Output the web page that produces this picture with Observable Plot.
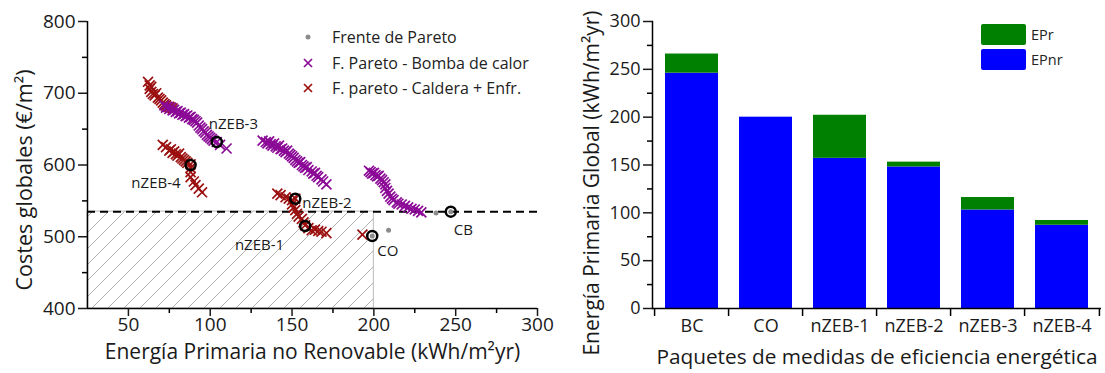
<!DOCTYPE html>
<html><head><meta charset="utf-8">
<script src="https://cdn.jsdelivr.net/npm/d3@7"></script>
<script src="https://cdn.jsdelivr.net/npm/@observablehq/plot@0.6"></script>
<style>
body{margin:0;background:#fff;font-family:"Open Sans",sans-serif;}
#wrap{position:relative;width:1105px;height:373px;overflow:hidden;background:#fff;}
#left{position:absolute;left:0;top:0;}
#right{position:absolute;left:560px;top:0;}
.leg{position:absolute;color:#222;white-space:nowrap;}
.leg .row{position:absolute;left:0;display:flex;align-items:center;}
</style></head><body>
<div id="wrap"><div id="left"></div><div id="right"></div><div id="legL" class="leg"></div><div id="legR" class="leg"></div></div>
<script>
// ---------- Data: left panel (Pareto fronts) ----------
const seriesNames = ["Frente de Pareto", "F. Pareto - Bomba de calor", "F. pareto - Caldera + Enfr."];
const seriesColors = ["#8c8c8c", "#8b0a96", "#9b1010"];

const paretoEP   = [199, 209, 238, 247];
const paretoCost = [501, 509, 533, 535];

const heatPumpEP = [72,73,74,75,76,77,78,79,80,81,82,83,84,85,86,87,88,89,90,91,92,93,94,95,96,97,98,99,100,101,102,104,106,110,
  132,134,135,136,137,138,139,140,141,142,143,144,145,146,147,148,149,150,151,152,153,154,155,156,157,158,159,160,162,163,164,165,166,168,169,171,
  197,198,199,200,201,202,203,204,205,206,207,207,208,209,210,211,212,214,215,217,219,221,223,225,227,229];
const heatPumpCost = [683,680,681,678,680,676,677,674,675,672,673,670,671,668,669,666,667,664,663,661,659,655,652,650,647,645,642,640,638,636,634,632,628,623,
  634,632,630,633,629,627,630,626,624,627,622,623,620,618,620,616,614,612,610,607,605,603,604,600,598,596,597,593,591,588,589,585,583,580,577,573,
  592,590,588,589,586,584,585,581,579,576,573,568,564,560,556,553,551,548,546,545,543,541,539,538,536,534];

const boilerEP = [62,63,63,64,64,65,66,67,68,69,70,71,72,73,75,77,
  71,73,75,76,77,78,79,80,81,82,83,84,85,86,88,88,88,88,90,91,93,95,
  141,143,146,148,150,152,150,151,152,153,154,156,157,158,160,162,164,166,168,171,
  193];
const boilerCost = [716,711,706,702,709,699,697,700,694,692,690,687,685,683,681,679,
  628,625,620,622,617,619,615,613,616,611,609,607,605,603,601,596,590,583,577,572,567,562,
  560,558,555,553,551,553,545,541,537,532,528,525,520,516,512,509,510,508,507,505,
  503];

const packageNames = ["CB", "CO", "nZEB-1", "nZEB-2", "nZEB-3", "nZEB-4"];
const packageEP    = [247, 199, 158, 152, 104, 88];
const packageCost  = [535, 501, 515, 553, 632, 600];

const limitEP = 200;     // EPnr limit
const limitCost = 535;   // cost of reference (CB)

const xTicksL = [50, 100, 150, 200, 250, 300];
const xMinorL = [75, 125, 175, 225, 275];
const yTicksL = [400, 500, 600, 700, 800];
const yMinorL = [450, 550, 650, 750];

// ---------- Data: right panel (stacked bars) ----------
const categories = ["BC", "CO", "nZEB-1", "nZEB-2", "nZEB-3", "nZEB-4"];
const EPnr = [246, 200, 157, 148, 103, 87];
const EPr  = [20, 0, 45, 5, 13, 5];
const barSeries = ["EPr", "EPnr"];
const barColors = ["#008000", "#0000ff"];
const yTicksR = [0, 50, 100, 150, 200, 250, 300];
const yMinorR = [25, 75, 125, 175, 225, 275];

// ---------- Build tables ----------
const pareto = paretoEP.map((x, i) => ({x, y: paretoCost[i]}));
const heat = heatPumpEP.map((x, i) => ({x, y: heatPumpCost[i]}));
const boiler = boilerEP.map((x, i) => ({x, y: boilerCost[i]}));
const pkgs = packageNames.map((name, i) => ({name, x: packageEP[i], y: packageCost[i]}));
const bars = [];
categories.forEach((c, i) => { bars.push({cat: c, type: "EPnr", value: EPnr[i]}); });
categories.forEach((c, i) => { bars.push({cat: c, type: "EPr", value: EPr[i]}); });

const font = "Open Sans";
const ink = "#1a1a1a";

// label layout (offsets in px)
const labelLayout = {
  "CB": {dx: 3, dy: 19, anchor: "start"},
  "CO": {dx: 5, dy: 15, anchor: "start"},
  "nZEB-1": {dx: -21, dy: 19, anchor: "end"},
  "nZEB-2": {dx: 7, dy: 4, anchor: "start"},
  "nZEB-3": {dx: -8, dy: -18, anchor: "start"},
  "nZEB-4": {dx: -10, dy: 18, anchor: "end"}
};

const LW = 560, LH = 373, LML = 87, LMR = 23, LMT = 21, LMB = 65;

const leftMarks = [
  Plot.rect([{x1: 25, x2: limitEP, y1: 400, y2: limitCost}], {x1: "x1", x2: "x2", y1: "y1", y2: "y2", fill: "url(#hatch)", stroke: "#bdbdbd", strokeWidth: 1}),
  Plot.ruleY([limitCost], {stroke: "#000", strokeWidth: 2, strokeDasharray: "8,5"}),
  Plot.dot(boiler, {x: "x", y: "y", symbol: "times", r: 4.6, stroke: seriesColors[2], strokeWidth: 1.7}),
  Plot.dot(heat, {x: "x", y: "y", symbol: "times", r: 4.6, stroke: seriesColors[1], strokeWidth: 1.7}),
  Plot.dot(pareto, {x: "x", y: "y", r: 2.5, fill: seriesColors[0]}),
  Plot.dot(pkgs, {x: "x", y: "y", r: 5, stroke: "#000", strokeWidth: 2.5, fill: "none"}),
  ...pkgs.map(p => Plot.text([p], {x: "x", y: "y", text: "name", dx: labelLayout[p.name].dx, dy: labelLayout[p.name].dy, textAnchor: labelLayout[p.name].anchor, fontSize: 15, fill: ink})),
  Plot.ruleX([25], {stroke: "#000", strokeWidth: 1.5}),
  Plot.ruleY([400], {stroke: "#000", strokeWidth: 1.5}),
  Plot.axisY({ticks: yTicksL, tickSize: 9, tickPadding: 3, fontSize: 19, label: null, strokeWidth: 1.5, color: ink}),
  Plot.axisY({ticks: yMinorL, tickSize: 5, tickFormat: () => "", label: null, strokeWidth: 1.5}),
  Plot.axisX({ticks: xTicksL, tickSize: 8, tickPadding: 1, fontSize: 19, label: null, strokeWidth: 1.5, color: ink}),
  Plot.axisX({ticks: xMinorL, tickSize: 5, tickFormat: () => "", label: null, strokeWidth: 1.5}),
  Plot.text(["Energía Primaria no Renovable (kWh/m²yr)"], {frameAnchor: "bottom", dy: 44, lineAnchor: "middle", textAnchor: "middle", fontSize: 21, fill: ink}),
  Plot.text(["Costes globales (€/m²)"], {frameAnchor: "left", dx: -62, dy: 15, rotate: -90, textAnchor: "middle", lineAnchor: "middle", fontSize: 21.5, fill: ink})
];

const left = Plot.plot({
  width: LW, height: LH, marginLeft: LML, marginRight: LMR, marginTop: LMT, marginBottom: LMB,
  style: {fontFamily: font, background: "transparent", overflow: "visible"},
  x: {domain: [25, 300]},
  y: {domain: [400, 800]},
  marks: leftMarks
});
const ns = "http://www.w3.org/2000/svg";
const defs = document.createElementNS(ns, "defs");
defs.innerHTML = '<pattern id="hatch" patternUnits="userSpaceOnUse" width="16" height="16"><path d="M-4,4 l8,-8 M0,16 l16,-16 M12,20 l8,-8" stroke="#b3b3b3" stroke-width="1"/></pattern>';
left.insertBefore(defs, left.firstChild);
document.getElementById("left").appendChild(left);

// ---------- Right panel ----------
const RW = 545, RH = 373, RML = 92, RMR = 4, RMT = 21, RMB = 65;
const step = (RW - RML - RMR) / categories.length;

const right = Plot.plot({
  width: RW, height: RH, marginLeft: RML, marginRight: RMR, marginTop: RMT, marginBottom: RMB,
  style: {fontFamily: font, background: "transparent", overflow: "visible"},
  x: {domain: categories, paddingInner: 0.28, paddingOuter: 0.14},
  y: {domain: [0, 300]},
  color: {domain: barSeries, range: barColors},
  marks: [
    Plot.barY(bars, {x: "cat", y: "value", fill: "type", order: ["EPnr", "EPr"]}),
    Plot.frame({anchor: "left", stroke: "#000", strokeWidth: 1.5}),
    Plot.ruleY([0], {stroke: "#000", strokeWidth: 1.5}),
    Plot.axisY({ticks: yTicksR, tickSize: 9, tickPadding: 3, fontSize: 18, label: null, strokeWidth: 1.5, color: ink}),
    Plot.axisY({ticks: yMinorR, tickSize: 5, tickFormat: () => "", label: null, strokeWidth: 1.5}),
    Plot.axisX({tickSize: 0, tickPadding: 11, fontSize: 18, label: null, color: ink}),
    Plot.axisX({ticks: categories, tickSize: 8, tickFormat: () => "", label: null, strokeWidth: 1.5, dx: -step / 2}),
    Plot.axisX({ticks: categories.slice(-1), tickSize: 8, tickFormat: () => "", label: null, strokeWidth: 1.5, dx: step / 2}),
    Plot.text(["Paquetes de medidas de eficiencia energética"], {frameAnchor: "bottom", dy: 49, lineAnchor: "middle", textAnchor: "middle", fontSize: 20.8, fill: ink}),
    Plot.text(["Energía Primaria Global (kWh/m²yr)"], {frameAnchor: "left", dx: -60, dy: 18, rotate: -90, textAnchor: "middle", lineAnchor: "middle", fontSize: 21, fill: ink})
  ]
});
document.getElementById("right").appendChild(right);

// ---------- Legends ----------
const legL = document.getElementById("legL");
legL.style.left = "300px"; legL.style.top = "26px"; legL.style.fontSize = "16px";
seriesNames.forEach((name, i) => {
  const row = document.createElement("div");
  row.className = "row";
  row.style.top = (i * 25.5) + "px";
  const mk = i === 0
    ? `<svg width="17" height="22"><circle cx="8" cy="11" r="2.5" fill="${seriesColors[i]}"/></svg>`
    : `<svg width="17" height="22"><path d="M4,7 L12,15 M12,7 L4,15" stroke="${seriesColors[i]}" stroke-width="1.7"/></svg>`;
  row.innerHTML = mk + `<span style="margin-left:15px">${name}</span>`;
  legL.appendChild(row);
});
const legR = document.getElementById("legR");
legR.style.left = "981px"; legR.style.top = "24px"; legR.style.fontSize = "14.5px";
barSeries.forEach((name, i) => {
  const row = document.createElement("div");
  row.className = "row";
  row.style.top = (i * 25) + "px";
  row.innerHTML = `<div style="width:45px;height:21px;border-radius:2px;background:${barColors[i]}"></div><span style="margin-left:5px">${name}</span>`;
  legR.appendChild(row);
});
</script>
</body></html>
